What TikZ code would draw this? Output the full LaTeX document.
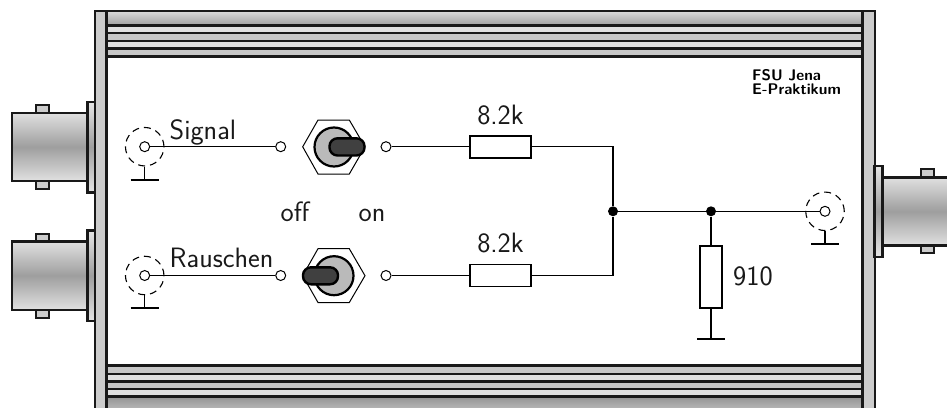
\documentclass[tikz,border=0pt]{standalone}
\usepackage{fontspec}
\begin{document}
\begin{tikzpicture}[x=1pt,y=-1pt,
  caseline/.style={draw=black!90,line width=2.4pt},
  thinline/.style={draw=black!90,line width=1.8pt},
  rail/.style={caseline,fill=black!20},
  bandlight/.style={caseline,fill=black!12},
  banddark/.style={caseline,fill=black!22},
  bodygrad/.style={caseline,top color=black!12,bottom color=black!12,middle color=black!38},
  flangegrad/.style={caseline,top color=black!10,bottom color=black!10,middle color=black!38},
  tabbox/.style={thinline,fill=black!20},
  wire/.style={draw=black,line width=1.1pt},
  term/.style={circle,draw=black,line width=1pt,fill=white,inner sep=0pt,minimum size=10pt},
  dashring/.style={circle,draw=black,line width=1.1pt,dash pattern=on 7pt off 5pt,inner sep=0pt,minimum size=38.5pt},
  gndbar/.style={draw=black,line width=2pt},
  resbox/.style={rectangle,draw=black,line width=1.8pt,fill=white,inner sep=0pt},
  hres/.style={resbox,minimum width=61pt,minimum height=22pt},
  vres/.style={resbox,minimum width=22pt,minimum height=62pt},
  junction/.style={circle,fill=black,inner sep=0pt,minimum size=10pt},
  hexnut/.style={draw=black,line width=1pt,fill=white},
  knob/.style={circle,draw=black,line width=2.2pt,fill=black!27,inner sep=0pt,minimum size=39pt},
  lever/.style={draw=black,line width=2.4pt,fill=black!75,rounded corners=8pt},
  lbl/.style={font=\sffamily\fontsize{28}{30}\selectfont,inner sep=0pt,text=black!90},
  stamp/.style={font=\sffamily\bfseries\fontsize{15.4}{14}\selectfont,inner sep=0pt,align=left,anchor=north west}]
\useasboundingbox (0,0) rectangle (947,407);
\clip (0,0) rectangle (947,407);
% case
\filldraw[fill=white,draw=none] (95,11) rectangle (875,410);
\path[caseline,top color=black!14,bottom color=black!38] (106.5,11) rectangle (862.5,25.5);
\path[bandlight] (106.5,25.5) rectangle (862.5,33);
\path[banddark] (106.5,33) rectangle (862.5,41);
\path[bandlight] (106.5,41) rectangle (862.5,48.5);
\path[banddark] (106.5,48.5) rectangle (862.5,56.5);
\path[banddark] (106.5,365.5) rectangle (862.5,374);
\path[bandlight] (106.5,374) rectangle (862.5,381.5);
\path[banddark] (106.5,381.5) rectangle (862.5,389);
\path[bandlight] (106.5,389) rectangle (862.5,396.5);
\path[caseline,top color=black!42,bottom color=black!25] (106.5,396.5) rectangle (862.5,412);
\path[rail] (95,11) rectangle (106.5,412);
\path[rail] (862.5,11) rectangle (875,412);
% left BNC connectors
\foreach \dy in {0,128.7}{
  \path[tabbox] (36,105+\dy) rectangle (49,113+\dy);
  \path[tabbox] (36,181+\dy) rectangle (49,189+\dy);
  \path[bodygrad] (12,112.7+\dy) rectangle (87.5,181+\dy);
  \path[flangegrad] (87.5,101.7+\dy) rectangle (95,192.3+\dy);
}
% right BNC connector
\path[tabbox] (921,169.3) rectangle (933.7,177.3);
\path[tabbox] (921,245.3) rectangle (933.7,253);
\path[bodygrad] (882.3,177.3) rectangle (955,245.3);
\path[flangegrad] (874.5,165.7) rectangle (882.3,256.7);
% switches
\path[hexnut] (302.7,146.8) -- (318,120) -- (349.3,120) -- (365,146.8) -- (349.3,174) -- (318,174) -- cycle;
\node[knob] (knobA) at (334,147) {};
\path[lever] (329.5,138.3) rectangle (364.5,155.5);
\path[hexnut] (302.7,275.7) -- (318,248.7) -- (349.3,248.7) -- (365,275.7) -- (349.3,302.5) -- (318,302.5) -- cycle;
\node[knob] (knobB) at (334,275.7) {};
\path[lever] (303,267.3) rectangle (338,284.3);
% terminals
\node[dashring] (ringA) at (144.7,146.7) {};
\node[dashring] (ringB) at (144.7,275.5) {};
\node[dashring] (ringC) at (825,211.3) {};
\node[term] (inA) at (144.7,146.7) {};
\node[term] (inB) at (144.7,275.5) {};
\node[term] (outC) at (825,211.3) {};
\node[term] (swAl) at (280.7,146.7) {};
\node[term] (swBl) at (280.7,275.5) {};
\node[term] (swAr) at (386,146.7) {};
\node[term] (swBr) at (386,275.5) {};
\node[hres] (rA) at (500.5,146.7) {};
\node[hres] (rB) at (500.5,275.5) {};
\node[vres] (rC) at (711,277) {};
\node[junction] (jA) at (613,211.3) {};
\node[junction] (jB) at (711,211.3) {};
\coordinate (cA) at (613,146.7);
\coordinate (cB) at (613,275.5);
\coordinate (gA) at (144.7,179.5);
\coordinate (gB) at (144.7,308.3);
\coordinate (gC) at (825,244);
\coordinate (gD) at (711,339);
% connectors
\draw[wire] (inA) -- (swAl);
\draw[wire] (inB) -- (swBl);
\draw[wire] (swAr) -- (rA);
\draw[wire] (swBr) -- (rB);
\draw[wire] (rA) -- (cA) -- (jA);
\draw[wire] (rB) -- (cB) -- (jA);
\draw[wire] (jA) -- (jB);
\draw[wire] (jB) -- (outC);
\draw[wire] (jB) -- (rC);
\draw[wire] (rC) -- (gD);
\draw[wire] (ringA.south) -- (gA);
\draw[wire] (ringB.south) -- (gB);
\draw[wire] (ringC.south) -- (gC);
\draw[gndbar] ([xshift=-14pt]gA) -- ([xshift=14pt]gA);
\draw[gndbar] ([xshift=-14pt]gB) -- ([xshift=14pt]gB);
\draw[gndbar] ([xshift=-14pt]gC) -- ([xshift=14pt]gC);
\draw[gndbar] ([xshift=-14pt]gD) -- ([xshift=14pt]gD);
% labels
\node[lbl,anchor=base west] (tSignal) at (169.5,139) {Signal};
\node[lbl,anchor=base west] (tRausch) at (169.5,267) {Rauschen};
\node[lbl,anchor=base] (tOff) at (295,221) {off};
\node[lbl,anchor=base] (tOn) at (372,221) {on};
\node[lbl,anchor=base] (tRa) at (500.5,124) {8.2k};
\node[lbl,anchor=base] (tRb) at (500.5,252) {8.2k};
\node[lbl,anchor=base west] (tRc) at (733,285) {910};
\node[stamp] (tStamp) at (752,69) {FSU Jena\\E-Praktikum};
\end{tikzpicture}
\end{document}
